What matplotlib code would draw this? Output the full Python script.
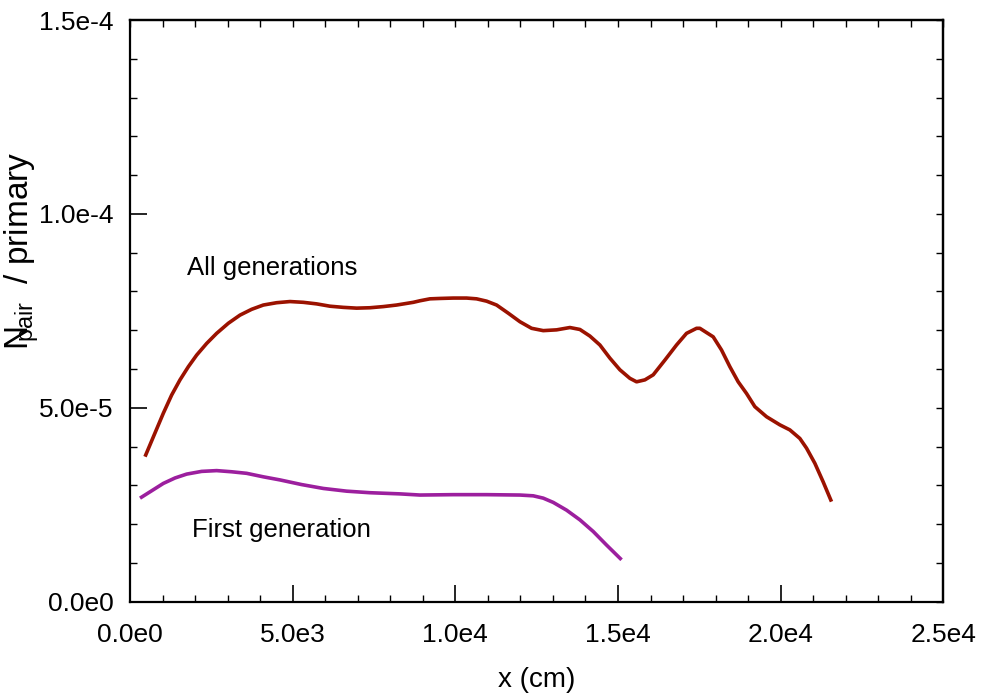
import numpy as np
import matplotlib
matplotlib.use("Agg")
import matplotlib.pyplot as plt
from matplotlib.ticker import MultipleLocator

plt.rcParams['font.family'] = ['Liberation Sans', 'DejaVu Sans']
plt.rcParams['mathtext.default'] = 'regular'

# 全部代次的电子对产额 (单位 1e-5)
x_all = [461, 717, 1024, 1280, 1536, 1793, 2049, 2356, 2663, 3022, 3380, 3739,
         4097, 4507, 4917, 5326, 5736, 6146, 6556, 6965, 7375, 7785, 8194, 8707,
         8912, 9219, 9527, 9936, 10346, 10653, 10961, 11268, 11626, 11985, 12343,
         12702, 13112, 13521, 13829, 14136, 14443, 14751, 15058, 15365, 15570,
         15826, 16082, 16441, 16799, 17106, 17414, 17516, 17926, 18182, 18438,
         18694, 18950, 19206, 19565, 19975, 20282, 20589, 20794, 21050, 21306, 21562]
y_all = [3.74, 4.25, 4.86, 5.33, 5.72, 6.06, 6.36, 6.66, 6.92, 7.18, 7.39, 7.54,
         7.65, 7.71, 7.74, 7.72, 7.68, 7.62, 7.59, 7.57, 7.58, 7.61, 7.65, 7.72,
         7.76, 7.81, 7.82, 7.83, 7.83, 7.81, 7.75, 7.65, 7.44, 7.22, 7.05,
         6.99, 7.01, 7.07, 7.02, 6.85, 6.62, 6.28, 5.98, 5.76, 5.67,
         5.72, 5.85, 6.23, 6.62, 6.92, 7.05, 7.05, 6.83, 6.49, 6.06,
         5.67, 5.37, 5.03, 4.77, 4.56, 4.43, 4.21, 3.96, 3.57, 3.09, 2.58]

# 第一代
x_first = [307, 666, 1024, 1383, 1741, 2202, 2663, 3124, 3585, 4097, 4609, 5275,
           5941, 6658, 7375, 8297, 8912, 9936, 10961, 11985, 12395, 12702, 13009,
           13419, 13829, 14238, 14648, 15109]
y_first = [2.67, 2.86, 3.05, 3.19, 3.29, 3.36, 3.38, 3.35, 3.31, 3.22, 3.14, 3.02,
           2.92, 2.85, 2.81, 2.78, 2.75, 2.76, 2.76, 2.75, 2.73, 2.67, 2.56,
           2.36, 2.11, 1.81, 1.46, 1.08]

x_ticks = [0, 5000, 10000, 15000, 20000, 25000]
x_ticklabels = ['0.0e0', '5.0e3', '1.0e4', '1.5e4', '2.0e4', '2.5e4']
y_ticks = [0, 5e-5, 1e-4, 1.5e-4]
y_ticklabels = ['0.0e0', '5.0e-5', '1.0e-4', '1.5e-4']

fig = plt.figure(figsize=(9.85, 6.98), dpi=100)
ax = fig.add_axes([0.132, 0.138, 0.8257, 0.8333])

ax.plot(x_all, np.array(y_all) * 1e-5, color='#9b1200', lw=2.6, solid_capstyle='butt')
ax.plot(x_first, np.array(y_first) * 1e-5, color='#9c1f9e', lw=2.6, solid_capstyle='butt')

ax.text(1752, 8.6e-5, 'All generations', fontsize=18.5, va='center', ha='left')
ax.text(1905, 1.85e-5, 'First generation', fontsize=18.5, va='center', ha='left')

ax.set_xlim(0, 25000)
ax.set_ylim(0, 1.5e-4)
ax.set_xticks(x_ticks)
ax.set_xticklabels(x_ticklabels)
ax.set_yticks(y_ticks)
ax.set_yticklabels(y_ticklabels)
ax.xaxis.set_minor_locator(MultipleLocator(1000))
ax.yaxis.set_minor_locator(MultipleLocator(1e-5))
ax.tick_params(which='major', direction='in', length=12, width=1.2, labelsize=19)
ax.tick_params(axis='x', which='major', pad=15)
ax.tick_params(axis='y', which='major', pad=12)
ax.tick_params(which='minor', direction='in', length=5, width=1.0)

# 上/右侧短刻度
sx = ax.secondary_xaxis('top')
sx.set_xticks(x_ticks)
sx.xaxis.set_minor_locator(MultipleLocator(1000))
sx.set_xticklabels([])
sx.tick_params(which='both', direction='in', length=5, width=1.0)

sy = ax.secondary_yaxis('right')
sy.set_yticks(y_ticks)
sy.yaxis.set_minor_locator(MultipleLocator(1e-5))
sy.set_yticklabels([])
sy.tick_params(which='both', direction='in', length=5, width=1.0)

for s in list(ax.spines.values()) + list(sx.spines.values()) + list(sy.spines.values()):
    s.set_linewidth(1.6)

ax.set_xlabel('x (cm)', fontsize=20)
ax.xaxis.set_label_coords(0.5, -0.112)
fig.text(22 / 985, 1 - 350 / 698, r'N$\!\!\!_{pair}$  / primary', fontsize=24,
         rotation=90, ha='center', va='bottom')

fig.savefig('out.png', dpi=100)
